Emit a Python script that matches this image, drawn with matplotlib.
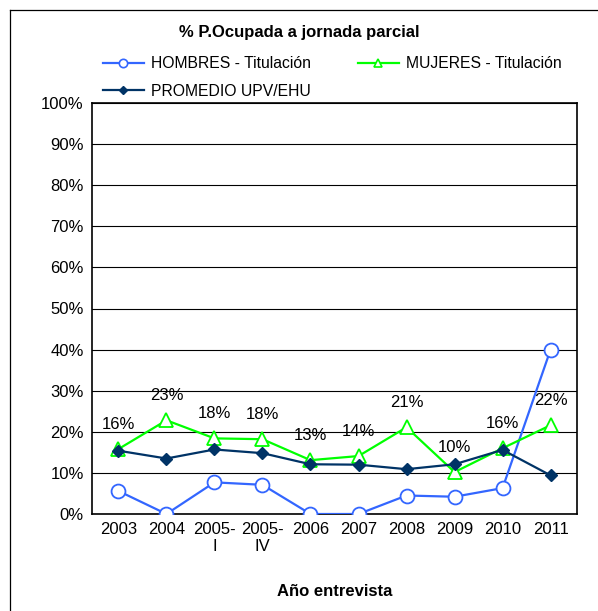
import matplotlib.pyplot as plt
import numpy as np
from matplotlib.lines import Line2D

plt.rcParams['font.family'] = ['Liberation Sans', 'DejaVu Sans']

years = ['2003', '2004', '2005-\nI', '2005-\nIV', '2006', '2007', '2008', '2009', '2010', '2011']
hombres = [5.6, 0.0, 7.7, 7.1, 0.0, 0.0, 4.5, 4.2, 6.3, 40.0]
mujeres = [15.8, 22.8, 18.4, 18.2, 13.1, 14.1, 21.1, 10.2, 16.0, 21.6]
mujeres_labels = ['16%', '23%', '18%', '18%', '13%', '14%', '21%', '10%', '16%', '22%']
promedio = [15.4, 13.5, 15.7, 14.8, 12.1, 12.0, 10.9, 12.1, 15.6, 9.4]

fig = plt.figure(figsize=(5.98, 6.11), dpi=100)
ax = fig.add_axes([92/598, 1-514/611, (577-92)/598, (514-103)/611])

# outer frame (only left and top visible in the reference)
fig.add_artist(Line2D([10/598, 10/598], [0, 1-10/611], transform=fig.transFigure, color='black', lw=0.9))
fig.add_artist(Line2D([10/598, 1], [1-10/611, 1-10/611], transform=fig.transFigure, color='black', lw=0.9))

x = np.arange(len(years))
blue = '#3366FF'
green = '#00FF00'
navy = '#003366'

ax.plot(x, hombres, color=blue, lw=1.6, marker='o', ms=10, mfc='white', mec=blue, mew=1.3, zorder=3)
ax.plot(x, mujeres, color=green, lw=1.6, marker='^', ms=10, mfc='white', mec=green, mew=1.3, zorder=3)
ax.plot(x, promedio, color=navy, lw=1.6, marker='D', ms=6.5, mfc=navy, mec=navy, zorder=4)

for xi, yi, lab in zip(x, mujeres, mujeres_labels):
    ax.annotate(lab, (xi, yi), xytext=(0, 18), textcoords='offset points',
                ha='center', va='center', fontsize=12)

ax.set_xlim(-0.55, len(years) - 0.45)
ax.set_ylim(0, 100)
ax.set_yticks(np.arange(0, 101, 10))
ax.set_yticklabels([f'{v}%' for v in range(0, 101, 10)], fontsize=12)
ax.set_xticks(x)
ax.set_xticklabels(years, fontsize=12, linespacing=1.1)
ax.tick_params(axis='both', length=0, pad=6)
ax.yaxis.grid(True, color='black', lw=0.8)
ax.set_axisbelow(True)
for s in ax.spines.values():
    s.set_linewidth(1.2)

ax.set_xlabel('Año entrevista', fontsize=12, fontweight='bold', labelpad=22)

fig.text(0.5, 1-32/611, '% P.Ocupada a jornada parcial', ha='center', va='center',
         fontsize=12, fontweight='bold')

# legend handles with small markers; order gives row-major layout
h_h = Line2D([], [], color=blue, lw=1.6, marker='o', ms=6, mfc='white', mec=blue, mew=1.2)
h_m = Line2D([], [], color=green, lw=1.6, marker='^', ms=6, mfc='white', mec=green, mew=1.2)
h_p = Line2D([], [], color=navy, lw=1.6, marker='D', ms=4.5, mfc=navy, mec=navy)
fig.legend([h_h, h_p, h_m], ['HOMBRES - Titulación', 'PROMEDIO UPV/EHU', 'MUJERES - Titulación'],
           loc='upper left', bbox_to_anchor=(103/598, 1-56/611), ncol=2, frameon=False,
           fontsize=11.3, handlelength=2.6, handletextpad=0.45, columnspacing=3.0,
           labelspacing=0.8, borderaxespad=0, borderpad=0)

plt.savefig('out.png', dpi=100)
plt.close()
